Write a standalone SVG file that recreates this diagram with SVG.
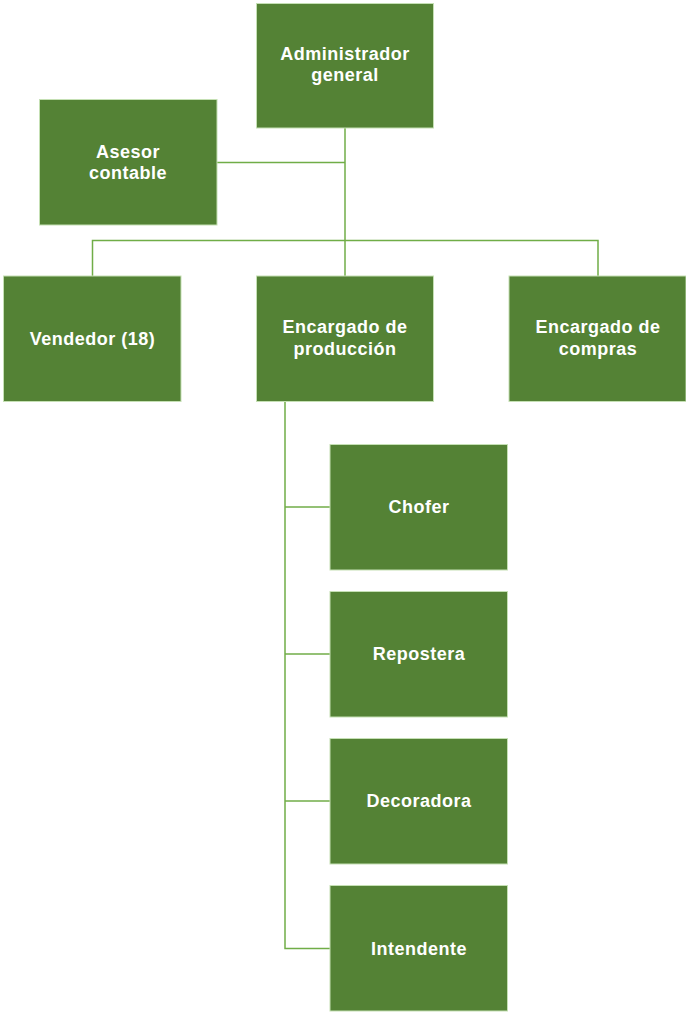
<svg xmlns="http://www.w3.org/2000/svg" width="686" height="1013" viewBox="0 0 686 1013">
<style>
.box{fill:#548235;stroke:#C5E0B4;stroke-width:1}
.lbl{font-family:"Liberation Sans",Arial,sans-serif;font-weight:bold;font-size:18px;fill:#FFFFFF;text-anchor:middle;letter-spacing:0.5px}
.con{fill:none;stroke:#70AD47;stroke-width:1.5}
</style>
<rect width="686" height="1013" fill="#FFFFFF"/>
<g id="connectors">
<path class="con" d="M345,128 V276"/>
<path class="con" d="M217,162.5 H345"/>
<path class="con" d="M92.5,276 V240.5 H598 V276"/>
<path class="con" d="M285,402 V948.5 H330"/>
<path class="con" d="M285,507 H330"/>
<path class="con" d="M285,654 H330"/>
<path class="con" d="M285,801 H330"/>
</g>
<g id="admin"><rect class="box" x="256.5" y="3.5" width="177" height="124.5"/><text class="lbl"><tspan x="345" y="60">Administrador</tspan><tspan x="345" y="81">general</tspan></text></g>
<g id="asesor"><rect class="box" x="39.5" y="99.5" width="177.5" height="125.5"/><text class="lbl"><tspan x="128" y="157.5">Asesor</tspan><tspan x="128" y="178.5">contable</tspan></text></g>
<g id="vendedor"><rect class="box" x="3.5" y="276" width="177.5" height="125.5"/><text class="lbl" x="92.5" y="345">Vendedor (18)</text></g>
<g id="produccion"><rect class="box" x="256.5" y="276" width="177" height="125.5"/><text class="lbl"><tspan x="345" y="333">Encargado de</tspan><tspan x="345" y="354.5">producción</tspan></text></g>
<g id="compras"><rect class="box" x="509" y="276" width="177" height="125.5"/><text class="lbl"><tspan x="598" y="333">Encargado de</tspan><tspan x="598" y="354.5">compras</tspan></text></g>
<g id="chofer"><rect class="box" x="330" y="444.5" width="177.5" height="125.5"/><text class="lbl" x="419" y="513">Chofer</text></g>
<g id="repostera"><rect class="box" x="330" y="591.5" width="177.5" height="125.5"/><text class="lbl" x="419" y="660">Repostera</text></g>
<g id="decoradora"><rect class="box" x="330" y="738.5" width="177.5" height="125.5"/><text class="lbl" x="419" y="807">Decoradora</text></g>
<g id="intendente"><rect class="box" x="330" y="885.5" width="177.5" height="125.5"/><text class="lbl" x="419" y="954.5">Intendente</text></g>
</svg>
